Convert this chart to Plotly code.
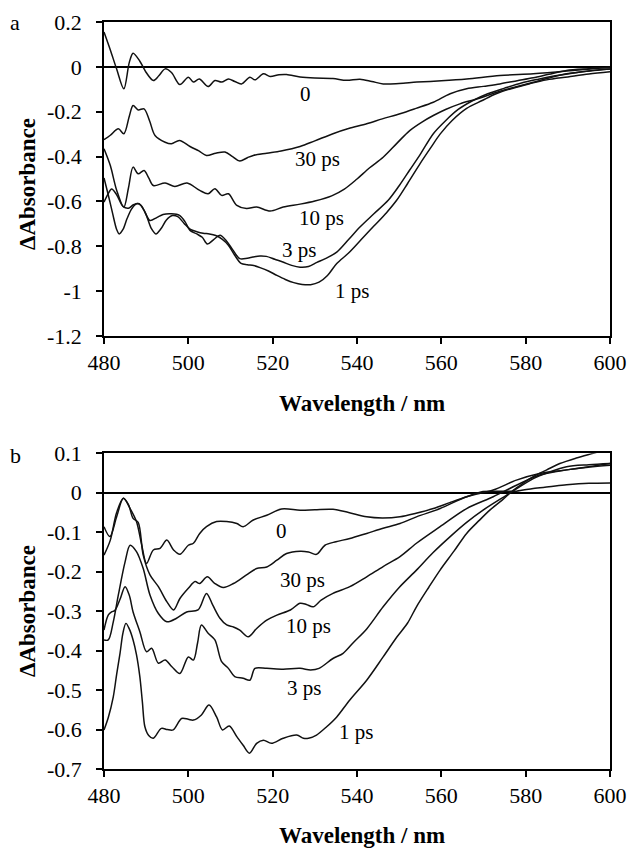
import plotly.graph_objects as go

# ---------------- Panel a data ----------------
wl_a_0 = [480, 481.5, 483, 484.7, 486, 486.9, 488.5, 490, 491.7, 493, 494.5, 496, 498, 500, 501.2, 502.6,
          504.7, 506.3, 507.9, 509.5, 511, 512.6, 514.6, 515.8, 517.8, 519.4, 521.5, 523.3, 526.5, 530,
          534.3, 537.5, 540.7, 543.5, 546.2, 550, 554.2, 560, 566, 573.9, 581.8, 589.7, 595.3, 600]
da_a_0 = [0.155, 0.075, -0.01, -0.098, 0.02, 0.061, 0.025, -0.025, -0.061, -0.04, -0.009, -0.025, -0.079,
          -0.046, -0.068, -0.054, -0.088, -0.061, -0.068, -0.054, -0.065, -0.076, -0.046, -0.058, -0.031,
          -0.043, -0.035, -0.034, -0.045, -0.05, -0.052, -0.06, -0.055, -0.065, -0.076, -0.074, -0.068,
          -0.062, -0.054, -0.039, -0.031, -0.019, -0.009, -0.002]

wl_a_30 = [480, 481.5, 483.4, 484.7, 486, 486.9, 488.1, 489.5, 490.8, 492.1, 494.5, 496, 497.9, 500.4, 502.5,
           504.3, 506.5, 508.7, 510.5, 512.2, 514, 515.4, 518.6, 522, 526.5, 530, 534.3, 538, 542.3, 546,
           550.2, 554, 558.1, 562.1, 566, 570, 573.9, 578, 581.8, 585.5, 589.7, 595, 600]
da_a_30 = [-0.325, -0.305, -0.276, -0.298, -0.22, -0.172, -0.192, -0.187, -0.24, -0.306, -0.336, -0.343,
           -0.328, -0.355, -0.375, -0.395, -0.385, -0.38, -0.4, -0.42, -0.405, -0.395, -0.385, -0.375,
           -0.355, -0.33, -0.298, -0.275, -0.254, -0.232, -0.209, -0.185, -0.158, -0.12, -0.098, -0.087,
           -0.076, -0.062, -0.049, -0.033, -0.016, -0.008, -0.002]

wl_a_10 = [480, 481.5, 483, 484.7, 485.8, 486.9, 488.1, 489.5, 490.6, 491.7, 494.5, 496.8, 499.7, 502.7,
           504.7, 506.3, 507.9, 509.5, 511.5, 513.8, 516.2, 519.4, 522.5, 526.5, 530, 534, 537, 540, 543,
           546.2, 549.5, 552.5, 555.5, 558.1, 561, 564.4, 568.4, 573.9, 578, 581.8, 585.5, 589.7, 595, 600]
da_a_10 = [-0.365, -0.44, -0.55, -0.625, -0.54, -0.447, -0.477, -0.462, -0.495, -0.529, -0.518, -0.533,
           -0.518, -0.551, -0.566, -0.543, -0.573, -0.566, -0.618, -0.632, -0.625, -0.643, -0.625, -0.612,
           -0.598, -0.575, -0.545, -0.5, -0.45, -0.403, -0.34, -0.284, -0.245, -0.217, -0.19, -0.165,
           -0.143, -0.109, -0.088, -0.069, -0.05, -0.031, -0.018, -0.009]

wl_a_3 = [480, 481, 481.8, 483, 484.5, 485.8, 487, 488.3, 489.5, 490.9, 492.5, 494, 496, 497.9, 499.2, 500.4,
          502, 503.3, 504.5, 506, 507.5, 509, 510.5, 512.2, 514, 515.3, 517, 518.5, 520.5, 522.4, 524.5,
          526.5, 528.5, 530.5, 532.5, 535.2, 538, 540.7, 544, 547.4, 550, 552.5, 555, 558.1, 561, 564,
          567.5, 571, 575, 579, 583, 587, 591, 595, 600]
da_a_3 = [-0.603, -0.565, -0.545, -0.57, -0.622, -0.63, -0.615, -0.61, -0.64, -0.685, -0.672, -0.658,
          -0.655, -0.662, -0.69, -0.729, -0.745, -0.76, -0.79, -0.77, -0.751, -0.775, -0.815, -0.855,
          -0.853, -0.848, -0.843, -0.845, -0.858, -0.87, -0.885, -0.893, -0.89, -0.872, -0.855, -0.826,
          -0.77, -0.714, -0.655, -0.595, -0.53, -0.46, -0.39, -0.298, -0.24, -0.19, -0.15, -0.12, -0.095,
          -0.072, -0.055, -0.04, -0.028, -0.018, -0.01]

wl_a_1 = [480, 481, 482, 483, 483.6, 484.5, 485.5, 486.6, 487.7, 488.8, 490, 491.2, 492.3, 493.5, 494.8,
          496.2, 497.5, 499, 500.5, 502, 503.5, 505, 506.5, 508, 509.5, 511, 512.5, 514, 515.5, 517, 519,
          521, 523, 525, 527, 529, 531, 533, 535.2, 538, 541, 544, 547, 549.4, 552, 555, 557.5, 559.7,
          562.5, 566, 569.7, 573, 577, 581, 585, 590, 595, 600]
da_a_1 = [-0.495, -0.57, -0.65, -0.725, -0.745, -0.725, -0.675, -0.632, -0.61, -0.618, -0.66, -0.72,
          -0.745, -0.722, -0.683, -0.663, -0.668, -0.698, -0.725, -0.735, -0.742, -0.745, -0.752, -0.768,
          -0.795, -0.84, -0.876, -0.882, -0.886, -0.895, -0.91, -0.93, -0.948, -0.962, -0.97, -0.971,
          -0.96, -0.93, -0.877, -0.83, -0.77, -0.71, -0.65, -0.595, -0.52, -0.43, -0.36, -0.3, -0.24,
          -0.185, -0.15, -0.12, -0.095, -0.075, -0.058, -0.045, -0.032, -0.022]

# ---------------- Panel b data ----------------
wl_b_0 = [480, 481.4, 483, 484.6, 486.2, 487.7, 488.9, 490.1, 491.7, 493.3, 494.9, 496.5, 498, 500, 501.2,
          502.7, 504.3, 506.7, 509.1, 511.5, 513, 515.4, 518.6, 522.1, 526.5, 530, 534.3, 538, 542.3, 546,
          550.2, 554, 558.1, 562, 566, 569.9, 573.5, 577.8, 581.8, 585.5, 589.7, 595, 600]
da_b_0 = [-0.086, -0.111, -0.061, -0.014, -0.04, -0.073, -0.13, -0.179, -0.145, -0.141, -0.12, -0.145,
          -0.156, -0.133, -0.128, -0.103, -0.086, -0.073, -0.073, -0.078, -0.086, -0.069, -0.057, -0.041,
          -0.044, -0.043, -0.042, -0.05, -0.061, -0.064, -0.061, -0.052, -0.04, -0.025, -0.01, 0.003,
          0.004, 0.004, 0.011, 0.015, 0.02, 0.024, 0.025]

wl_b_30 = [480, 481.5, 483, 484.6, 485.8, 486.9, 488.1, 489.3, 490.9, 492.9, 494.9, 496.5, 498, 500, 501.6,
           502.7, 504.5, 506.3, 508.3, 510.7, 513.8, 516.2, 518.6, 521, 523.3, 526.5, 528.5, 530.4, 532.4,
           535, 538.3, 542.3, 546.2, 550.2, 554.1, 559.7, 566, 572.3, 577.8, 583.3, 589.7, 595, 600]
da_b_30 = [-0.158, -0.12, -0.05, -0.014, -0.03, -0.065, -0.075, -0.158, -0.208, -0.238, -0.276, -0.297,
           -0.268, -0.242, -0.225, -0.23, -0.213, -0.23, -0.24, -0.23, -0.208, -0.192, -0.188, -0.171,
           -0.154, -0.148, -0.15, -0.156, -0.133, -0.124, -0.116, -0.103, -0.09, -0.078, -0.061, -0.04,
           -0.01, 0.007, 0.032, 0.049, 0.058, 0.066, 0.074]

wl_b_10 = [480, 481, 482.2, 483.4, 485, 486.2, 487.7, 489.3, 490.9, 492.9, 494.9, 497.2, 499.6, 502.3, 504.3,
           505.8, 507.5, 509.1, 510.7, 512.2, 514.2, 516.2, 518.6, 521, 524.2, 526.5, 528, 529.6, 531.5,
           534.3, 538.3, 542.3, 546.2, 550.2, 554.1, 559.7, 566, 572.3, 577.8, 583.3, 589.7, 595, 600]
da_b_10 = [-0.373, -0.373, -0.327, -0.259, -0.175, -0.133, -0.149, -0.192, -0.259, -0.306, -0.327, -0.318,
           -0.302, -0.297, -0.255, -0.285, -0.318, -0.335, -0.34, -0.348, -0.365, -0.344, -0.323, -0.31,
           -0.297, -0.28, -0.283, -0.289, -0.272, -0.255, -0.238, -0.213, -0.187, -0.162, -0.128, -0.086,
           -0.04, -0.01, 0.019, 0.045, 0.058, 0.065, 0.07]

wl_b_3 = [480, 481, 481.8, 482.6, 483.8, 485, 486, 486.9, 488.5, 490.1, 491.3, 492.9, 494.5, 496.1, 498, 500,
          501.2, 502.2, 503.1, 504.7, 506.3, 507.9, 509.5, 511, 513, 514.6, 515.8, 518.6, 522.5, 526.5, 529,
          531, 534.3, 536.7, 539.1, 542.3, 546.2, 550, 554.1, 558, 562.1, 566, 569.9, 575.5, 581.8, 585.5,
          589.7, 595, 600]
da_b_3 = [-0.348, -0.31, -0.302, -0.298, -0.27, -0.238, -0.26, -0.302, -0.352, -0.403, -0.394, -0.432,
          -0.424, -0.441, -0.458, -0.416, -0.424, -0.38, -0.335, -0.356, -0.373, -0.428, -0.445, -0.466,
          -0.47, -0.475, -0.445, -0.445, -0.447, -0.445, -0.449, -0.445, -0.42, -0.407, -0.38, -0.345,
          -0.289, -0.24, -0.196, -0.152, -0.111, -0.075, -0.044, -0.006, 0.036, 0.052, 0.066, 0.071, 0.074]

wl_b_1 = [480, 481, 482.2, 483, 483.8, 484.5, 485.2, 486, 486.9, 487.7, 488.5, 489.1, 489.7, 490.6, 491.7,
          493.6, 495, 496.4, 498.4, 500, 501.2, 503.1, 504.9, 506.7, 508.1, 509.7, 511.5, 513, 514.5, 516.2,
          517.8, 519.7, 522.5, 525.7, 527.3, 528.5, 530.4, 532.8, 535.2, 538.3, 542.3, 546.2, 549.5, 552,
          554.1, 557, 559.7, 563, 566, 569, 571.5, 574.5, 577.1, 579.5, 581.8, 585, 588.1, 592, 596, 600]
da_b_1 = [-0.601, -0.57, -0.517, -0.46, -0.407, -0.355, -0.331, -0.345, -0.373, -0.41, -0.466, -0.53,
          -0.593, -0.615, -0.622, -0.597, -0.6, -0.601, -0.572, -0.574, -0.576, -0.563, -0.538, -0.568,
          -0.601, -0.591, -0.618, -0.64, -0.66, -0.635, -0.627, -0.635, -0.622, -0.614, -0.622, -0.622,
          -0.614, -0.593, -0.568, -0.525, -0.475, -0.416, -0.365, -0.33, -0.289, -0.24, -0.196, -0.148,
          -0.103, -0.07, -0.044, -0.018, 0.007, 0.025, 0.041, 0.058, 0.074, 0.088, 0.1, 0.112]

# ---------------- Axis ticks and labels ----------------
x_ticks = [480, 500, 520, 540, 560, 580, 600]
x_ticktext = ["480", "500", "520", "540", "560", "580", "600"]
ya_ticks = [0.2, 0, -0.2, -0.4, -0.6, -0.8, -1.0, -1.2]
ya_ticktext = ["0.2", "0", "-0.2", "-0.4", "-0.6", "-0.8", "-1", "-1.2"]
yb_ticks = [0.1, 0, -0.1, -0.2, -0.3, -0.4, -0.5, -0.6, -0.7]
yb_ticktext = ["0.1", "0", "-0.1", "-0.2", "-0.3", "-0.4", "-0.5", "-0.6", "-0.7"]

series_labels = ["0", "30 ps", "10 ps", "3 ps", "1 ps"]
label_a_pos = [(527.9, -0.123), (530.7, -0.409), (531.5, -0.676), (526.2, -0.818), (538.8, -1.0)]
label_b_pos = [(522.0, -0.097), (527.0, -0.221), (528.4, -0.338), (527.4, -0.495), (539.8, -0.606)]

panel_a = [(wl_a_0, da_a_0), (wl_a_30, da_a_30), (wl_a_10, da_a_10), (wl_a_3, da_a_3), (wl_a_1, da_a_1)]
panel_b = [(wl_b_0, da_b_0), (wl_b_30, da_b_30), (wl_b_10, da_b_10), (wl_b_3, da_b_3), (wl_b_1, da_b_1)]

W, H = 630, 849
FONT = "'Liberation Serif', 'DejaVu Serif', serif"

fig = go.Figure()
line_style = dict(color="#111111", width=1.5, shape="spline", smoothing=0.9)
for (x, y) in panel_a:
    fig.add_trace(go.Scatter(x=x, y=y, mode="lines", line=line_style, xaxis="x", yaxis="y",
                             showlegend=False, hoverinfo="skip"))
for (x, y) in panel_b:
    fig.add_trace(go.Scatter(x=x, y=y, mode="lines", line=line_style, xaxis="x2", yaxis="y2",
                             showlegend=False, hoverinfo="skip"))

def px_x(p):
    return p / W

def px_y(p):
    return 1 - p / H

axis_common = dict(showline=True, linecolor="black", linewidth=1.5, mirror=True, showgrid=False,
                   ticks="outside", ticklen=6, tickwidth=1.5, tickcolor="black", automargin=False,
                   tickfont=dict(family=FONT, size=22, color="black"))

fig.update_layout(
    width=W, height=H,
    margin=dict(l=0, r=0, t=0, b=0, autoexpand=False),
    paper_bgcolor="white", plot_bgcolor="white",
    font=dict(family=FONT, color="black"),
    xaxis=dict(domain=[px_x(104), px_x(610)], anchor="y", range=[480, 600], tickvals=x_ticks,
               ticktext=x_ticktext, zeroline=False, **axis_common),
    yaxis=dict(domain=[px_y(336), px_y(22)], anchor="x", range=[-1.2, 0.2], tickvals=ya_ticks,
               ticktext=ya_ticktext, zeroline=True, zerolinecolor="black", zerolinewidth=1.5,
               ticklabelstandoff=10, **axis_common),
    xaxis2=dict(domain=[px_x(104), px_x(610)], anchor="y2", range=[480, 600], tickvals=x_ticks,
                ticktext=x_ticktext, zeroline=False, **axis_common),
    yaxis2=dict(domain=[px_y(769), px_y(453.3)], anchor="x2", range=[-0.7, 0.1], tickvals=yb_ticks,
                ticktext=yb_ticktext, zeroline=True, zerolinecolor="black", zerolinewidth=1.5,
                ticklabelstandoff=10, **axis_common),
)

annotations = []
for txt, (lx, ly) in zip(series_labels, label_a_pos):
    annotations.append(dict(text=txt, x=lx, y=ly, xref="x", yref="y", showarrow=False,
                            font=dict(family=FONT, size=21, color="black")))
for txt, (lx, ly) in zip(series_labels, label_b_pos):
    annotations.append(dict(text=txt, x=lx, y=ly, xref="x2", yref="y2", showarrow=False,
                            font=dict(family=FONT, size=21, color="black")))

title_font = dict(family=FONT, size=23, color="black")
for (cx, cy) in [(362, 403), (362, 835)]:
    annotations.append(dict(text="<b>Wavelength / nm</b>", x=px_x(cx), y=px_y(cy), xref="paper", yref="paper",
                            showarrow=False, font=title_font, xanchor="center", yanchor="middle"))
for cy in [184, 611]:
    annotations.append(dict(text="<b>ΔAbsorbance</b>", x=px_x(27), y=px_y(cy), xref="paper", yref="paper",
                            showarrow=False, font=title_font, textangle=-90, xanchor="center", yanchor="middle"))
for txt, (cx, cy) in [("a", (15, 23)), ("b", (15, 455))]:
    annotations.append(dict(text=txt, x=px_x(cx), y=px_y(cy), xref="paper", yref="paper", showarrow=False,
                            font=dict(family=FONT, size=22, color="black"), xanchor="center", yanchor="middle"))

fig.update_layout(annotations=annotations)
# remove the default 8 px page margin so the 630x849 figure fills the window exactly
fig.write_html("out.html", config={"displayModeBar": False},
               post_script="document.body.style.margin='0';document.documentElement.style.overflow='hidden';")
